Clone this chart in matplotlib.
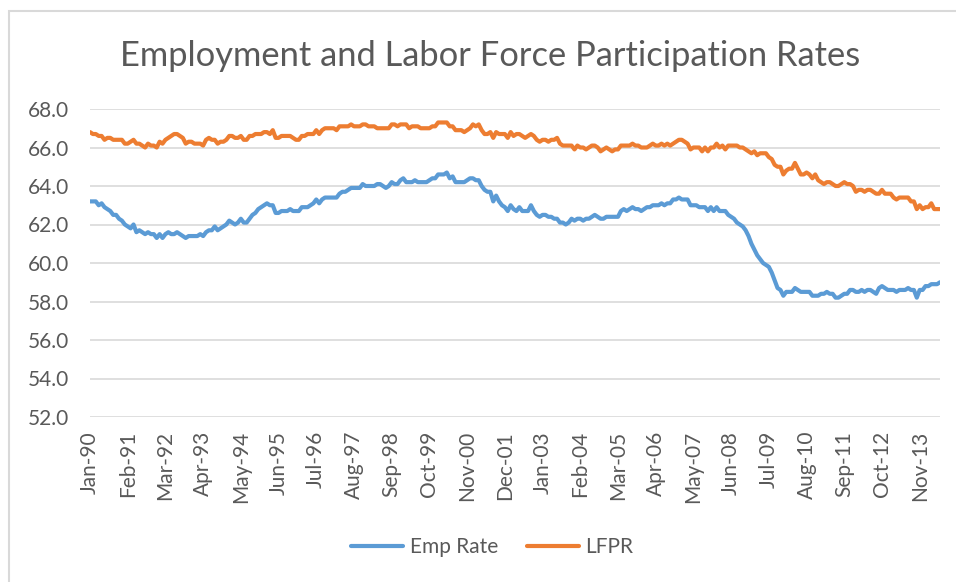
import numpy as np
import matplotlib
matplotlib.use("Agg")
import matplotlib.pyplot as plt
from matplotlib.patches import Rectangle

plt.rcParams['font.family'] = ['Lato', 'DejaVu Sans']

# monthly, Jan-1990 .. Jun-2014
emp_rate = [
    63.2, 63.2, 63.2, 63.0, 63.1, 62.9, 62.8, 62.7, 62.5, 62.5, 62.3, 62.2,  # 1990
    62.0, 61.9, 61.8, 62.0, 61.6, 61.7, 61.6, 61.5, 61.6, 61.5, 61.5, 61.3,  # 1991
    61.5, 61.3, 61.5, 61.6, 61.5, 61.5, 61.6, 61.5, 61.4, 61.3, 61.4, 61.4,  # 1992
    61.4, 61.4, 61.5, 61.4, 61.6, 61.7, 61.7, 61.9, 61.7, 61.8, 61.9, 62.0,  # 1993
    62.2, 62.1, 62.0, 62.1, 62.3, 62.1, 62.1, 62.3, 62.5, 62.6, 62.8, 62.9,  # 1994
    63.0, 63.1, 63.0, 63.0, 62.6, 62.6, 62.7, 62.7, 62.7, 62.8, 62.7, 62.7,  # 1995
    62.7, 62.9, 62.9, 62.9, 63.0, 63.1, 63.3, 63.1, 63.3, 63.4, 63.4, 63.4,  # 1996
    63.4, 63.4, 63.6, 63.7, 63.7, 63.8, 63.9, 63.9, 63.9, 63.9, 64.1, 64.0,  # 1997
    64.0, 64.0, 64.0, 64.1, 64.1, 64.0, 63.9, 64.0, 64.2, 64.1, 64.1, 64.3,  # 1998
    64.4, 64.2, 64.2, 64.2, 64.3, 64.2, 64.2, 64.2, 64.2, 64.3, 64.4, 64.4,  # 1999
    64.6, 64.6, 64.6, 64.7, 64.4, 64.5, 64.2, 64.2, 64.2, 64.2, 64.3, 64.4,  # 2000
    64.4, 64.3, 64.3, 64.0, 63.8, 63.7, 63.7, 63.2, 63.5, 63.2, 63.0, 62.9,  # 2001
    62.7, 63.0, 62.8, 62.7, 62.9, 62.7, 62.7, 62.7, 63.0, 62.7, 62.5, 62.4,  # 2002
    62.5, 62.5, 62.4, 62.4, 62.3, 62.3, 62.1, 62.1, 62.0, 62.1, 62.3, 62.2,  # 2003
    62.3, 62.3, 62.2, 62.3, 62.3, 62.4, 62.5, 62.4, 62.3, 62.3, 62.4, 62.4,  # 2004
    62.4, 62.4, 62.4, 62.7, 62.8, 62.7, 62.8, 62.9, 62.8, 62.8, 62.7, 62.8,  # 2005
    62.9, 62.9, 63.0, 63.0, 63.0, 63.1, 63.0, 63.1, 63.1, 63.3, 63.3, 63.4,  # 2006
    63.3, 63.3, 63.3, 63.0, 63.0, 63.0, 62.9, 62.9, 62.9, 62.7, 62.9, 62.7,  # 2007
    62.9, 62.7, 62.7, 62.7, 62.5, 62.4, 62.3, 62.1, 62.0, 61.9, 61.7, 61.4,  # 2008
    61.0, 60.7, 60.4, 60.2, 60.0, 59.9, 59.8, 59.5, 59.1, 58.7, 58.6, 58.3,  # 2009
    58.5, 58.5, 58.5, 58.7, 58.6, 58.5, 58.5, 58.5, 58.5, 58.3, 58.3, 58.3,  # 2010
    58.4, 58.4, 58.5, 58.4, 58.4, 58.2, 58.2, 58.3, 58.4, 58.4, 58.6, 58.6,  # 2011
    58.5, 58.5, 58.6, 58.5, 58.6, 58.6, 58.5, 58.4, 58.7, 58.8, 58.7, 58.6,  # 2012
    58.6, 58.6, 58.5, 58.6, 58.6, 58.6, 58.7, 58.6, 58.6, 58.2, 58.6, 58.6,  # 2013
    58.8, 58.8, 58.9, 58.9, 58.9, 59.0,                                      # 2014
]

lfpr = [
    66.8, 66.7, 66.7, 66.6, 66.6, 66.4, 66.5, 66.5, 66.4, 66.4, 66.4, 66.4,  # 1990
    66.2, 66.2, 66.3, 66.4, 66.2, 66.2, 66.1, 66.0, 66.2, 66.1, 66.1, 66.0,  # 1991
    66.3, 66.2, 66.4, 66.5, 66.6, 66.7, 66.7, 66.6, 66.5, 66.2, 66.3, 66.3,  # 1992
    66.2, 66.2, 66.2, 66.1, 66.4, 66.5, 66.4, 66.4, 66.2, 66.3, 66.3, 66.4,  # 1993
    66.6, 66.6, 66.5, 66.5, 66.6, 66.4, 66.4, 66.6, 66.6, 66.7, 66.7, 66.7,  # 1994
    66.8, 66.8, 66.7, 66.9, 66.5, 66.5, 66.6, 66.6, 66.6, 66.6, 66.5, 66.4,  # 1995
    66.4, 66.6, 66.6, 66.7, 66.7, 66.7, 66.9, 66.7, 66.9, 67.0, 67.0, 67.0,  # 1996
    67.0, 66.9, 67.1, 67.1, 67.1, 67.1, 67.2, 67.1, 67.1, 67.1, 67.2, 67.2,  # 1997
    67.1, 67.1, 67.1, 67.0, 67.0, 67.0, 67.0, 67.0, 67.2, 67.2, 67.1, 67.2,  # 1998
    67.2, 67.2, 67.0, 67.1, 67.1, 67.1, 67.0, 67.0, 67.0, 67.0, 67.1, 67.1,  # 1999
    67.3, 67.3, 67.3, 67.3, 67.1, 67.1, 66.9, 66.9, 66.9, 66.8, 66.9, 67.0,  # 2000
    67.2, 67.1, 67.2, 66.9, 66.7, 66.7, 66.8, 66.5, 66.8, 66.7, 66.7, 66.7,  # 2001
    66.5, 66.8, 66.6, 66.7, 66.7, 66.6, 66.5, 66.6, 66.7, 66.6, 66.4, 66.3,  # 2002
    66.4, 66.4, 66.3, 66.4, 66.4, 66.5, 66.2, 66.1, 66.1, 66.1, 66.1, 65.9,  # 2003
    66.1, 66.0, 66.0, 65.9, 66.0, 66.1, 66.1, 66.0, 65.8, 65.9, 66.0, 65.9,  # 2004
    65.8, 65.9, 65.9, 66.1, 66.1, 66.1, 66.1, 66.2, 66.1, 66.1, 66.0, 66.0,  # 2005
    66.0, 66.1, 66.2, 66.1, 66.1, 66.2, 66.1, 66.2, 66.1, 66.2, 66.3, 66.4,  # 2006
    66.4, 66.3, 66.2, 65.9, 66.0, 66.0, 66.0, 65.8, 66.0, 65.8, 66.0, 66.0,  # 2007
    66.2, 66.0, 66.1, 65.9, 66.1, 66.1, 66.1, 66.1, 66.0, 66.0, 65.9, 65.8,  # 2008
    65.7, 65.8, 65.6, 65.7, 65.7, 65.7, 65.5, 65.4, 65.1, 65.0, 65.0, 64.6,  # 2009
    64.8, 64.9, 64.9, 65.2, 64.9, 64.6, 64.6, 64.7, 64.6, 64.4, 64.6, 64.3,  # 2010
    64.2, 64.1, 64.2, 64.2, 64.1, 64.0, 64.0, 64.1, 64.2, 64.1, 64.1, 64.0,  # 2011
    63.7, 63.8, 63.8, 63.7, 63.8, 63.8, 63.7, 63.6, 63.6, 63.8, 63.6, 63.6,  # 2012
    63.6, 63.4, 63.3, 63.4, 63.4, 63.4, 63.4, 63.2, 63.2, 62.8, 63.0, 62.8,  # 2013
    62.9, 62.9, 63.1, 62.8, 62.8, 62.8,                                      # 2014
]

tick_labels = ['Jan-90', 'Feb-91', 'Mar-92', 'Apr-93', 'May-94', 'Jun-95',
               'Jul-96', 'Aug-97', 'Sep-98', 'Oct-99', 'Nov-00', 'Dec-01',
               'Jan-03', 'Feb-04', 'Mar-05', 'Apr-06', 'May-07', 'Jun-08',
               'Jul-09', 'Aug-10', 'Sep-11', 'Oct-12', 'Nov-13']
yticks = [52, 54, 56, 58, 60, 62, 64, 66, 68]

months = np.arange(len(emp_rate))
text_col = '#595959'

fig = plt.figure(figsize=(9.56, 5.82), dpi=100)
# chart area border
fig.patches.append(Rectangle((9 / 956, -0.1), 1.2, 1 - 11 / 582 + 0.1,
                             transform=fig.transFigure, fill=False,
                             edgecolor='#D9D9D9', linewidth=1.5))
ax = fig.add_axes([90 / 956, 1 - 417 / 582, 850 / 956, 308 / 582])

ax.plot(months, emp_rate, color='#5B9BD5', lw=3.0, label='Emp Rate',
        solid_capstyle='round', solid_joinstyle='round')
ax.plot(months, lfpr, color='#ED7D31', lw=3.0, label='LFPR',
        solid_capstyle='round', solid_joinstyle='round')

ax.set_xlim(0, len(emp_rate) - 1)
ax.set_ylim(52, 68)
ax.set_yticks(yticks)
ax.set_yticklabels(['%.1f' % v for v in yticks])
ax.set_xticks(np.arange(0, len(emp_rate), 13)[:len(tick_labels)])
ax.set_xticklabels(tick_labels, rotation=90)
ax.tick_params(axis='both', length=0, labelsize=15, colors=text_col)
ax.tick_params(axis='y', pad=15)
ax.tick_params(axis='x', pad=10)
ax.grid(axis='y', color='#D9D9D9', lw=1.2)
ax.set_axisbelow(True)
for s in ax.spines.values():
    s.set_visible(False)

fig.text(0.513, 1 - 56 / 582, 'Employment and Labor Force Participation Rates',
         ha='center', va='center', fontsize=24.8, color=text_col)

fig.legend(loc='center', bbox_to_anchor=(0.515, 1 - 547 / 582), ncol=2,
           frameon=False, fontsize=15, labelcolor=text_col,
           handlelength=2.5, columnspacing=1.4, handletextpad=0.3)

fig.savefig('out.png', dpi=100)
